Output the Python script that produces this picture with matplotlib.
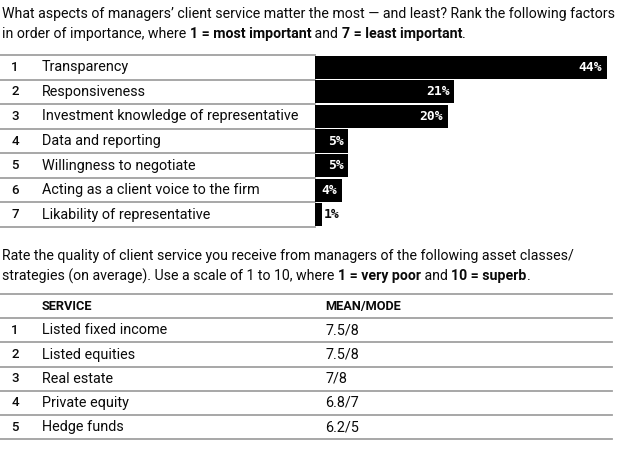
import matplotlib
matplotlib.use('Agg')
import matplotlib.pyplot as plt
from matplotlib import font_manager
from matplotlib.lines import Line2D
from matplotlib.transforms import blended_transform_factory

# ---------------- data ----------------
title1_line1 = [("What aspects of managers\u2019 client service matter the most \u2014 and least? Rank the following factors", 'normal')]
title1_line2 = [("in order of importance, where ", 'normal'), ("1 = most important", 'bold'),
                (" and ", 'normal'), ("7 = least important", 'bold'), (".", 'normal')]
factors = ["Transparency", "Responsiveness", "Investment knowledge of representative",
           "Data and reporting", "Willingness to negotiate",
           "Acting as a client voice to the firm", "Likability of representative"]
factor_pct = [44, 21, 20, 5, 5, 4, 1]

title2_line1 = [("Rate the quality of client service you receive from managers of the following asset classes/", 'normal')]
title2_line2 = [("strategies (on average). Use a scale of 1 to 10, where ", 'normal'), ("1 = very poor", 'bold'),
                (" and ", 'normal'), ("10 = superb", 'bold'), (".", 'normal')]
table_headers = ["SERVICE", "MEAN/MODE"]
services = ["Listed fixed income", "Listed equities", "Real estate", "Private equity", "Hedge funds"]
mean_mode = ["7.5/8", "7.5/8", "7/8", "6.8/7", "6.2/5"]

# ---------------- fonts ----------------
avail = {f.name for f in font_manager.fontManager.ttflist}
def pick(names):
    for n in names:
        if n in avail:
            return n
    return 'DejaVu Sans'
SANS = pick(['Liberation Sans Narrow', 'Roboto', 'Liberation Sans'])
MONO = pick(['DejaVu Sans Mono', 'Liberation Mono'])
INK = '#0a0a0a'

W, H, DPI = 620, 449, 100
fig = plt.figure(figsize=(W / DPI, H / DPI), dpi=DPI)
fig.patch.set_facecolor('white')
bg = fig.add_axes([0, 0, 1, 1])
bg.set_xlim(0, W)
bg.set_ylim(H, 0)
bg.axis('off')
renderer = fig.canvas.get_renderer()

def text_width(s, size, weight):
    t = bg.text(0, 0, s + '|', fontsize=size, fontweight=weight, family=SANS)
    b = bg.text(0, 0, '|', fontsize=size, fontweight=weight, family=SANS)
    w = t.get_window_extent(renderer).width - b.get_window_extent(renderer).width
    t.remove(); b.remove()
    return w

def draw_runs(x, y, parts, size):
    for s, wt in parts:
        bg.text(x, y, s, fontsize=size, fontweight=wt, family=SANS,
                va='center', ha='left', color=INK)
        x += text_width(s, size, wt)

TITLE_SIZE = 10.2
LABEL_SIZE = 10.4
GRAY = '#a0a0a0'

# ---------------- section 1 ----------------
draw_runs(2, 14, title1_line1, TITLE_SIZE)
draw_runs(2, 34, title1_line2, TITLE_SIZE)

top1, bot1 = 55, 227
bar_left, px_per_pct = 315, 6.64
ax = fig.add_axes([bar_left / W, 1 - bot1 / H, (W - bar_left) / W, (bot1 - top1) / H])
ax.set_xlim(0, (W - bar_left) / px_per_pct)
ax.set_ylim(len(factors) - 0.5, -0.5)
ax.axis('off')
ypos = list(range(len(factors)))
ax.barh(ypos, factor_pct, height=0.94, color='black', left=0)

for i, v in enumerate(factor_pct):
    if v >= 3:
        ax.annotate(f"{v}%", (v, i), xytext=(-3.5, 0), textcoords='offset points',
                    ha='right', va='center', color='white', fontsize=9.4,
                    fontweight='bold', family=MONO)
    else:
        ax.annotate(f"{v}%", (v, i), xytext=(1.5, 0), textcoords='offset points',
                    ha='left', va='center', color=INK, fontsize=9.4,
                    fontweight='bold', family=MONO)

tr = blended_transform_factory(bg.transData, ax.transData)
for i, name in enumerate(factors):
    bg.text(15, i, str(i + 1), transform=tr, ha='center', va='center',
            fontsize=9.5, fontweight='medium', family=SANS, color=INK)
    bg.text(42, i, name, transform=tr, ha='left', va='center',
            fontsize=LABEL_SIZE, family=SANS, color=INK)
for k in range(len(factors) + 1):
    bg.add_line(Line2D([0, bar_left], [k - 0.5, k - 0.5], transform=tr,
                       color=GRAY, lw=1.3, clip_on=False))

# ---------------- section 2 ----------------
draw_runs(2, 256, title2_line1, TITLE_SIZE)
draw_runs(2, 276, title2_line2, TITLE_SIZE)

top2, row2 = 294, 24.2
ax2 = fig.add_axes([0, 1 - (top2 + row2 * 6) / H, 1, row2 * 6 / H])
ax2.set_xlim(0, W)
ax2.set_ylim(5.5, -0.5)   # row 0 = header
ax2.axis('off')
for k in range(7):
    ax2.plot([0, 612], [k - 0.5, k - 0.5], color=GRAY, lw=1.3, clip_on=False)
ax2.text(42, 0, table_headers[0], ha='left', va='center', fontsize=9.2,
         fontweight='bold', family=SANS, color=INK)
ax2.text(325, 0, table_headers[1], ha='left', va='center', fontsize=9.2,
         fontweight='bold', family=SANS, color=INK)
for i, (s, m) in enumerate(zip(services, mean_mode)):
    r = i + 1
    ax2.text(15, r, str(i + 1), ha='center', va='center', fontsize=9.5,
             fontweight='medium', family=SANS, color=INK)
    ax2.text(42, r, s, ha='left', va='center', fontsize=LABEL_SIZE, family=SANS, color=INK)
    ax2.text(325, r, m, ha='left', va='center', fontsize=LABEL_SIZE, family=SANS, color=INK)

fig.savefig('out.png', dpi=DPI, facecolor='white')
